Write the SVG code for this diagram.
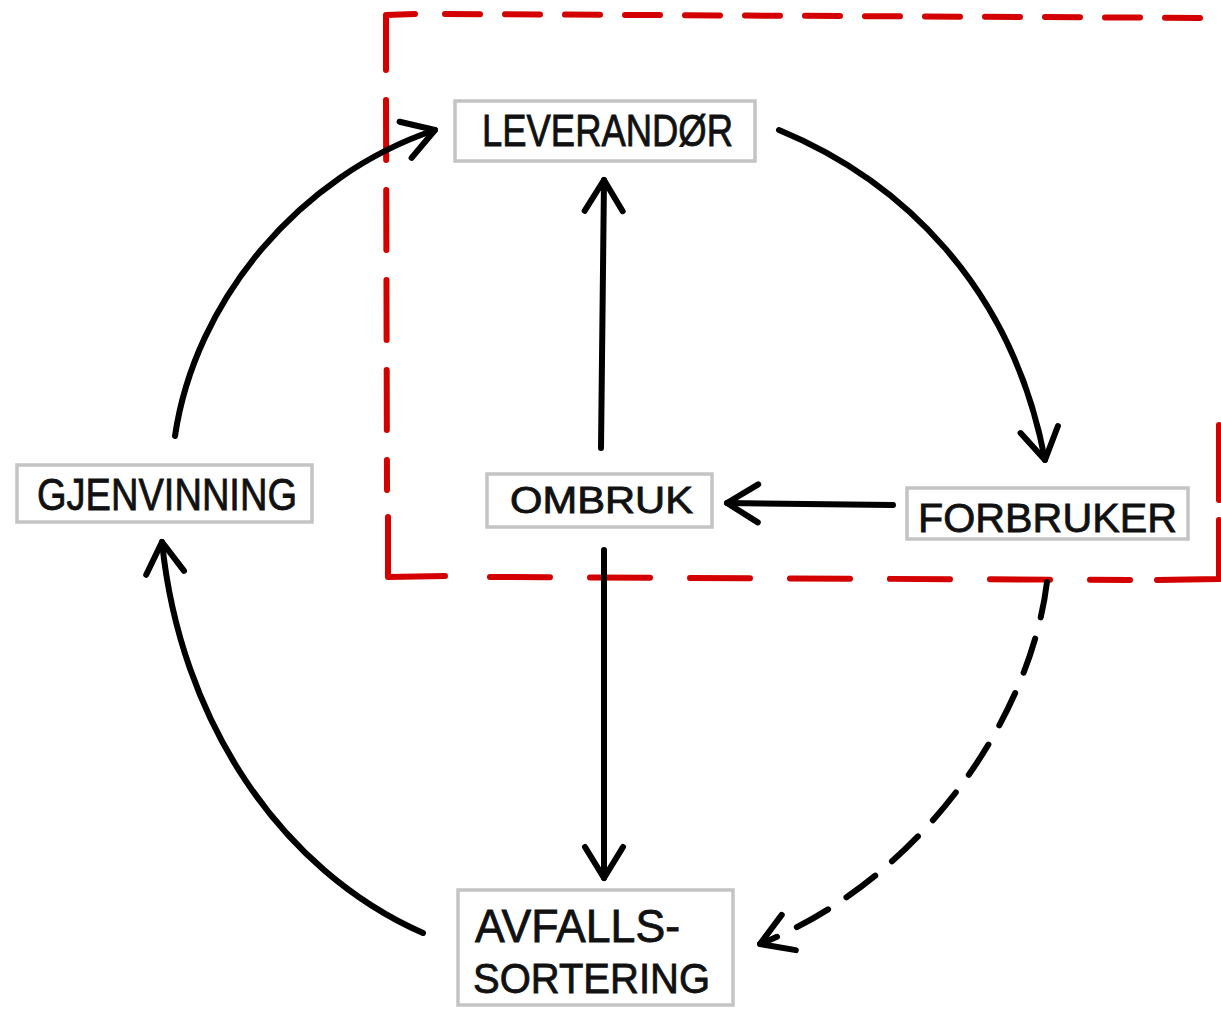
<svg xmlns="http://www.w3.org/2000/svg" width="1221" height="1009" viewBox="0 0 1221 1009">
<style>
.box{fill:#fff;stroke:#c4c4c4;stroke-width:3.5}
.lbl{font-family:"Liberation Sans","DejaVu Sans",sans-serif;fill:#111;stroke:#111;stroke-width:0.8}
.arr{fill:none;stroke:#000;stroke-width:6;stroke-linecap:round;stroke-linejoin:round}
.red{fill:none;stroke:#d40000;stroke-width:6;stroke-linecap:round;stroke-linejoin:round}
</style>
<defs>
<marker id="ah" markerUnits="userSpaceOnUse" viewBox="-40 -30 50 60" refX="0" refY="0" markerWidth="50" markerHeight="60" orient="auto" overflow="visible">
<path d="M-31,-19 L0,0 L-31,19" fill="none" stroke="#000" stroke-width="6" stroke-linecap="round" stroke-linejoin="round"/>
</marker>
</defs>
<rect width="1221" height="1009" fill="#fff"/>
<g id="frame">
<path class="red" d="M386,70 L386,15 L415,14"/>
<path class="red" d="M445,14 L1221,18" stroke-dasharray="35 25"/>
<path class="red" d="M386,100 L387,490" stroke-dasharray="60 30"/>
<path class="red" d="M388,517 L388,577 L445,576"/>
<path class="red" d="M490,577 L1130,580" stroke-dasharray="60 40"/>
<path class="red" d="M1157,580 L1219,579 L1219,520"/>
<path class="red" d="M1219,500 L1219,425"/>
</g>
<g id="connectors">
<path class="arr" d="M175,436 C195,300 300,175 435,130" marker-end="url(#ah)"/>
<path class="arr" d="M779,130 C900,180 1012,285 1045,460" marker-end="url(#ah)"/>
<path class="arr" d="M893,505 L727,503" marker-end="url(#ah)"/>
<path class="arr" d="M601,448 L604,180" marker-end="url(#ah)"/>
<path class="arr" d="M604,550 L604,878" marker-end="url(#ah)"/>
<path class="arr" d="M423,933 C280,870 180,720 162,542" marker-end="url(#ah)"/>
<path class="arr" d="M1047,582 C1030,720 920,880 760,944" stroke-dasharray="36 22" marker-end="url(#ah)"/>
</g>
<g id="leverandor">
<rect class="box" x="455" y="101" width="300" height="60"/>
<text class="lbl" x="482" y="146" font-size="44" textLength="251" lengthAdjust="spacingAndGlyphs">LEVERANDØR</text>
</g>
<g id="ombruk">
<rect class="box" x="487" y="474" width="225" height="53"/>
<text class="lbl" x="510" y="513" font-size="36" textLength="183" lengthAdjust="spacingAndGlyphs">OMBRUK</text>
</g>
<g id="forbruker">
<rect class="box" x="907" y="488" width="281" height="51"/>
<text class="lbl" x="918" y="532" font-size="41" textLength="259" lengthAdjust="spacingAndGlyphs">FORBRUKER</text>
</g>
<g id="gjenvinning">
<rect class="box" x="17" y="465" width="295" height="57"/>
<text class="lbl" x="37" y="510" font-size="44" textLength="260" lengthAdjust="spacingAndGlyphs">GJENVINNING</text>
</g>
<g id="avfallssortering">
<rect class="box" x="458" y="890" width="275" height="115"/>
<text class="lbl" x="475" y="942" font-size="46" textLength="205" lengthAdjust="spacingAndGlyphs">AVFALLS-</text>
<text class="lbl" x="473" y="993" font-size="42" textLength="237" lengthAdjust="spacingAndGlyphs">SORTERING</text>
</g>
</svg>
